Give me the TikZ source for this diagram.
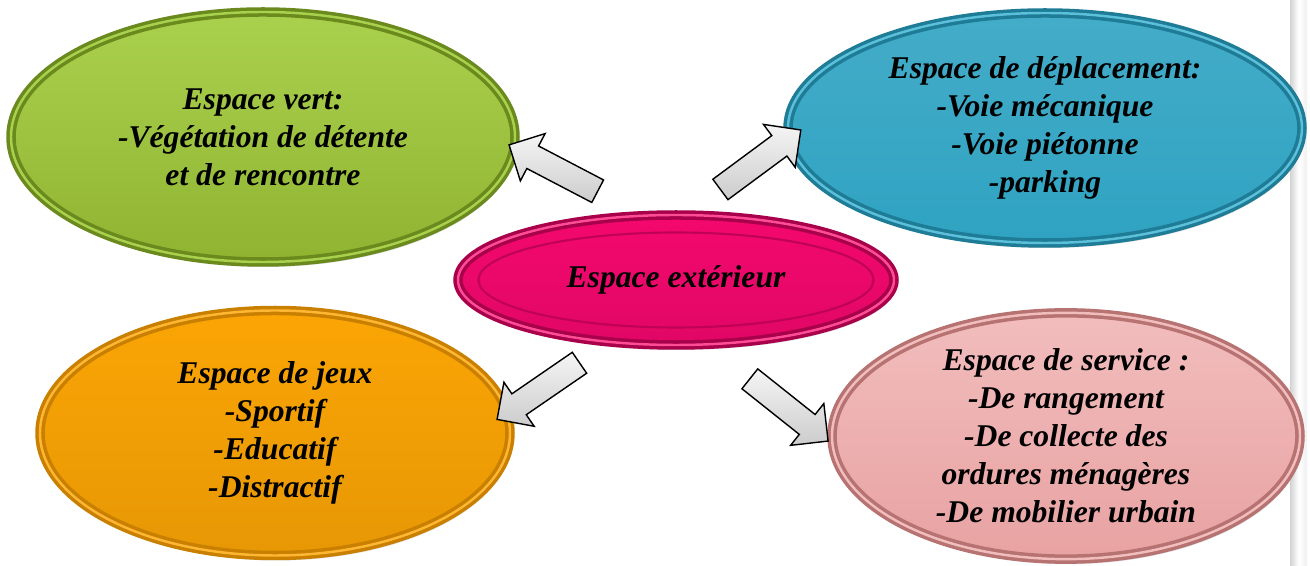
\documentclass[tikz,border=0pt]{standalone}
\usepackage{fontspec}
\setmainfont{Liberation Serif}
\usepackage{tikz}
\usetikzlibrary{shapes,shapes.arrows,shadows}

\definecolor{vertC}{HTML}{90B432}
\definecolor{vertL}{HTML}{AAD14E}
\definecolor{vertD}{HTML}{6A8A1E}
\definecolor{bleuC}{HTML}{2FA3C2}
\definecolor{bleuL}{HTML}{5CC0DA}
\definecolor{bleuD}{HTML}{1E7C96}
\definecolor{roseC}{HTML}{F4086E}
\definecolor{roseL}{HTML}{FF4D95}
\definecolor{roseD}{HTML}{A8004A}
\definecolor{orC}{HTML}{FBA505}
\definecolor{orL}{HTML}{FFB733}
\definecolor{orD}{HTML}{C98000}
\definecolor{saumC}{HTML}{E8A2A2}
\definecolor{saumL}{HTML}{F2BDBD}
\definecolor{saumD}{HTML}{B77272}

\begin{document}
\begin{tikzpicture}[inner sep=0pt]
    \tikzstyle{zone}=[ellipse, line width=2pt, double distance=1.4pt, align=center, text=black,
      font=\fontsize{18}{21.6}\selectfont\bfseries\itshape,
      drop shadow={opacity=0.25, shadow xshift=0.04cm, shadow yshift=-0.1cm}]
    \tikzstyle{fleche}=[single arrow, draw=black, thick, minimum height=2cm, inner ysep=0.24cm,
      inner xsep=0pt, single arrow head extend=0.28cm, top color=gray!8, bottom color=gray!40]

    \useasboundingbox (0,0) rectangle (26.2,11.32);
    \shade[left color=gray!35, right color=gray!12, middle color=white] (25.8,0) rectangle (26.14,11.32);

    \node[zone, draw=vertD, double=vertL, top color=vertL, bottom color=vertC,
      minimum width=10.08cm, minimum height=5cm] (vert) at (5.26,8.58)
      {Espace vert:\\-Végétation de détente\\et de rencontre};
    \node[zone, draw=bleuD, double=bleuL, top color=bleuC!90!white, bottom color=bleuC,
      minimum width=10.28cm, minimum height=4.6cm] (depl) at (20.9,8.76)
      {Espace de déplacement:\\-Voie mécanique\\-Voie piétonne\\-parking};
    \node[zone, draw=orD, double=orL, top color=orC, bottom color=orC!92!black,
      minimum width=9.4cm, minimum height=4.9cm] (jeux) at (5.5,2.66)
      {Espace de jeux\\-Sportif\\-Educatif\\-Distractif};
    \node[zone, draw=saumD, double=saumL, top color=saumL, bottom color=saumC,
      minimum width=9.36cm, minimum height=4.72cm] (serv) at (21.32,2.6)
      {Espace de service :\\-De rangement\\-De collecte des\\ordures ménagères\\-De mobilier urbain};
    \node[zone, draw=roseD, double=roseL, top color=roseC, bottom color=roseC!92!black,
      minimum width=8.72cm, minimum height=2.6cm] (ext) at (13.52,5.72) {Espace extérieur};
    \draw[roseD!70!roseC, line width=1.2pt] (ext.center) ellipse (3.95cm and 0.95cm);

    % les fleches...
    \node[fleche, rotate=152.4] (f1) at (11.18,7.90) {};
    \node[fleche, rotate=36.5] (f2) at (15.11,8.05) {};
    \node[fleche, rotate=214.5] (f3) at (10.87,3.57) {};
    \node[fleche, rotate=-38.5] (f4) at (15.68,3.20) {};
\end{tikzpicture}
\end{document}
